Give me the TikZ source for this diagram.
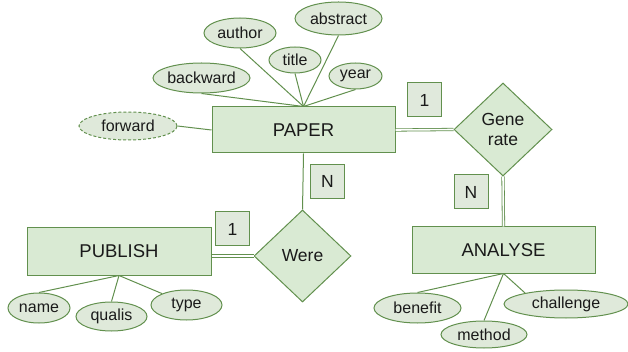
\documentclass[tikz,border=0pt]{standalone}
\usepackage{fontspec}
\setmainfont{Liberation Sans}
\usetikzlibrary{shapes.geometric}
\definecolor{boxfill}{HTML}{D9EAD3}
\definecolor{boxline}{HTML}{62904E}
\definecolor{ovalfill}{HTML}{DFE9DA}
\definecolor{tagfill}{HTML}{E0E9DC}
\definecolor{inkc}{HTML}{1A1A1A}
\begin{document}
\begin{tikzpicture}[x=1pt,y=-1pt,
    entity/.style={draw=boxline, fill=boxfill, line width=1pt, inner sep=0pt, text=inkc,
      minimum width=183pt, minimum height=46pt, font=\fontsize{18.5}{21}\selectfont},
    relation/.style={diamond, draw=boxline, fill=boxfill, line width=1pt, inner sep=0pt, text=inkc,
      align=center, font=\fontsize{17.5}{20}\selectfont},
    attrib/.style={ellipse, draw=boxline, fill=ovalfill, line width=1pt, inner sep=0pt, text=inkc,
      font=\fontsize{16}{18}\selectfont},
    card/.style={draw=boxline, fill=tagfill, line width=1pt, inner sep=0pt, text=inkc,
      minimum width=34pt, minimum height=34pt, font=\fontsize{17.5}{20}\selectfont},
    link/.style={draw=boxline, line width=1pt},
    dlink/.style={draw=boxline, line width=0.8pt, double=white, double distance=1.6pt}]
    \useasboundingbox (0,0) rectangle (628,352);
    % entities and relations
    \node[entity] (paper) at (303.5,130) {PAPER};
    \node[entity, minimum width=184pt, minimum height=47pt] (publish) at (119,251.5) {PUBLISH};
    \node[entity] (analyse) at (503.5,250) {ANALYSE};
    \node[relation, minimum width=98pt, minimum height=93pt] (generate) at (503,129.5) {Gene\\rate};
    \node[relation, minimum width=97pt, minimum height=92pt] (were) at (302.5,256) {Were};
    % cardinalities
    \node[card] (cardA) at (424.5,100) {1};
    \node[card] (cardB) at (471,192) {N};
    \node[card] (cardC) at (232.5,229) {1};
    \node[card] (cardD) at (327.5,181.5) {N};
    % attributes of paper
    \node[attrib, dash pattern=on 3pt off 2pt, minimum width=98pt, minimum height=28pt] (forward) at (128,126) {forward};
    \node[attrib, minimum width=97pt, minimum height=30pt] (backward) at (201.5,78) {backward};
    \node[attrib, minimum width=72pt, minimum height=30pt] (author) at (240,33) {author};
    \node[attrib, minimum width=52pt, minimum height=26pt] (title) at (295,60) {title};
    \node[attrib, minimum width=87pt, minimum height=33pt] (abstract) at (338.5,18.5) {abstract};
    \node[attrib, minimum width=53pt, minimum height=26pt] (year) at (355.5,76) {year};
    % attributes of publish
    \node[attrib, minimum width=62pt, minimum height=30pt] (name) at (39,308) {name};
    \node[attrib, minimum width=71pt, minimum height=29pt] (qualis) at (111.5,316.5) {qualis};
    \node[attrib, minimum width=71pt, minimum height=30pt] (type) at (186.5,305) {type};
    % attributes of analyse
    \node[attrib, minimum width=87pt, minimum height=30pt] (benefit) at (417.5,308) {benefit};
    \node[attrib, minimum width=86pt, minimum height=27pt] (method) at (484,334.5) {method};
    \node[attrib, minimum width=124pt, minimum height=28pt] (challenge) at (566,304) {challenge};

    \foreach \a in {backward,author,title,abstract,year}
    \draw[link] (\a.south) -- (paper.north);
    \draw[link] (forward.east) -- (paper.west);
    \foreach \a in {name,qualis}
    \draw[link] (\a.north) -- (publish.south);
    \draw[link] (type.155) -- (publish.south);
    \foreach \a in {benefit,method}
    \draw[link] (\a.north) -- (analyse.south);
    \draw[link] (challenge.165) -- (analyse.south);

    \draw[link] (paper.south) -- (were.north);
    \draw[dlink] (paper.east) -- (generate.west);
    \draw[dlink] (generate.south) -- (analyse.north);
    \draw[dlink] (were.west) -- (were.west -| publish.east);
\end{tikzpicture}
\end{document}
